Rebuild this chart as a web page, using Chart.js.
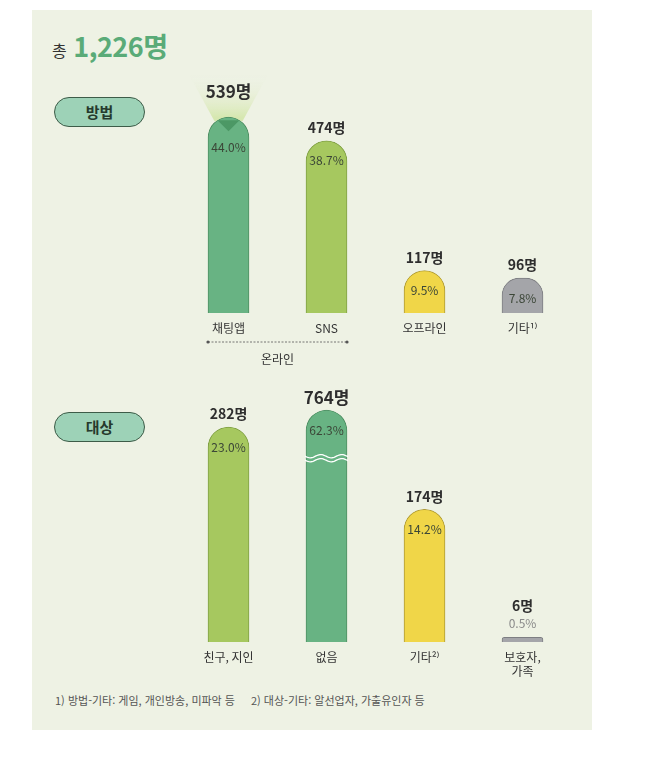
<!DOCTYPE html>
<html lang="ko">
<head>
    <meta charset="UTF-8">
    <title>방법 / 대상</title>
    <script src="https://cdn.jsdelivr.net/npm/chart.js"></script>
    <style>
        body { margin: 0; width: 670px; height: 758px; background: #fff; position: relative; overflow: hidden;
               font-family: 'Noto Sans CJK KR', 'Noto Sans', sans-serif; }
        .panel { position: absolute; left: 32px; top: 10px; width: 560px; height: 720px; background: #eef2e4; }
        .title { position: absolute; left: 52px; top: 26px; color: #333; font-size: 16px; white-space: nowrap; }
        .title b { color: #5aab78; font-size: 27px; margin-left: 2px; letter-spacing: -0.5px; }
        .pill { position: absolute; left: 54px; width: 89px; height: 28px; border: 1.5px solid #3d5c48; border-radius: 16px;
                background: #9dd2b7; color: #263a2d; font-weight: bold; font-size: 15px; text-align: center; line-height: 28px; }
        .note { position: absolute; left: 55px; top: 692px; font-size: 11px; color: #555; white-space: nowrap; }
        .note span + span { margin-left: 16px; }
        canvas { position: absolute; left: 0; }
    </style>
</head>
<body>
    <div class="panel"></div>
    <div class="title">총 <b>1,226명</b></div>
    <div class="pill" style="top: 97px;">방법</div>
    <div class="pill" style="top: 412px;">대상</div>
    <div class="note"><span>1) 방법-기타: 게임, 개인방송, 미파악 등</span><span>2) 대상-기타: 알선업자, 가출유인자 등</span></div>

    <!-- 방법 -->
    <canvas id="methodChart" width="670" height="380" style="top: 0;"></canvas>
    <!-- 대상 -->
    <canvas id="targetChart" width="670" height="300" style="top: 380px;"></canvas>
<script>
    // 방법
    const methodLabels = ['채팅앱', 'SNS', '오프라인', '기타¹⁾'];
    const methodCounts = [539, 474, 117, 96];
    const methodShares = [44.0, 38.7, 9.5, 7.8];

    // 대상
    const targetLabels = ['친구, 지인', '없음', '기타²⁾', ['보호자,', '가족']];
    const targetCounts = [282, 764, 174, 6];
    const targetShares = [23.0, 62.3, 14.2, 0.5];

    // 대상 axis is broken: bars above this value are cut (wavy line)
    const TARGET_BREAK = 304;

    const GREEN = ['#68b383', '#4f8f63'];
    const LIME = ['#a6c85f', '#80a045'];
    const YELLOW = ['#f0d648', '#ae9a35'];
    const GRAY = ['#a4a5a9', '#7d7e82'];

    const FONT = "'Noto Sans CJK KR', 'Noto Sans', sans-serif";

    // 값/비율 라벨, 스포트라이트, 물결, 온라인 괄호
    const barNotes = {
        id: 'barNotes',
        beforeDatasetsDraw(chart, args, opts) {
            if (opts.spotlight == null) return;
            const bar = chart.getDatasetMeta(0).data[opts.spotlight];
            const cx = bar.x, top = bar.y;
            const g = chart.ctx.createLinearGradient(0, top, 0, top - 42);
            g.addColorStop(0, 'rgba(214,231,176,1)');
            g.addColorStop(1, 'rgba(238,242,228,0)');
            const ctx = chart.ctx;
            ctx.save();
            ctx.fillStyle = g;
            ctx.beginPath();
            ctx.moveTo(cx - 39, top - 42);
            ctx.lineTo(cx + 39, top - 42);
            ctx.lineTo(cx + 14, top + 4);
            ctx.lineTo(cx - 14, top + 4);
            ctx.closePath();
            ctx.fill();
            ctx.restore();
        },
        afterDatasetsDraw(chart, args, opts) {
            const ctx = chart.ctx;
            const bars = chart.getDatasetMeta(0).data;
            const base = chart.chartArea.bottom;
            ctx.save();
            ctx.textAlign = 'center';
            ctx.textBaseline = 'middle';
            bars.forEach((bar, i) => {
                const top = bar.y;
                const big = i === opts.highlight;
                const lit = i === opts.spotlight;
                if (lit) {
                    ctx.fillStyle = '#4c9865';
                    ctx.beginPath();
                    ctx.moveTo(bar.x - 11, top + 3);
                    ctx.lineTo(bar.x + 11, top + 3);
                    ctx.lineTo(bar.x, top + 14);
                    ctx.closePath();
                    ctx.fill();
                }
                const small = base - top < 20;
                ctx.fillStyle = '#2e2e2e';
                ctx.font = 'bold ' + (big ? 17 : 14) + 'px ' + FONT;
                const valueY = small ? top - 32 : top - (lit ? 26 : 13);
                ctx.fillText(opts.counts[i] + '명', bar.x, valueY);
                ctx.font = '12px ' + FONT;
                ctx.fillStyle = small ? '#8a8a8a' : '#3b4637';
                const shareY = small ? top - 14 : top + (lit ? 30 : 20);
                ctx.fillText(opts.shares[i].toFixed(1) + '%', bar.x, shareY);
                if (opts.breakAt != null && opts.counts[i] > opts.breakAt) {
                    const y = top + 48;
                    const left = bar.x - bar.width / 2 - 1, right = bar.x + bar.width / 2 + 1;
                    ctx.strokeStyle = '#ffffff';
                    ctx.lineWidth = 1.3;
                    [-2, 2].forEach(dy => {
                        ctx.beginPath();
                        for (let x = left; x <= right; x += 1) {
                            const yy = y + dy + 1.6 * Math.sin((x - left) / 42 * Math.PI * 4);
                            if (x === left) ctx.moveTo(x, yy); else ctx.lineTo(x, yy);
                        }
                        ctx.stroke();
                    });
                }
            });
            if (opts.bracket) {
                const a = bars[opts.bracket[0]], b = bars[opts.bracket[1]];
                const x0 = a.x - a.width / 2, x1 = b.x + b.width / 2;
                const y = base + 29;
                ctx.strokeStyle = '#555';
                ctx.lineWidth = 0.8;
                ctx.setLineDash([2, 1.5]);
                ctx.beginPath();
                ctx.moveTo(x0, y);
                ctx.lineTo(x1, y);
                ctx.stroke();
                ctx.setLineDash([]);
                ctx.fillStyle = '#555';
                [x0, x1].forEach(x => { ctx.beginPath(); ctx.arc(x, y, 1.6, 0, Math.PI * 2); ctx.fill(); });
                ctx.fillStyle = '#333';
                ctx.font = '12px ' + FONT;
                ctx.fillText(opts.bracketLabel, (x0 + x1) / 2, y + 17);
            }
            ctx.restore();
        }
    };

    function makeChart(id, labels, values, colors, yMax, padTop, axisHeight, notes) {
        const ctx = document.getElementById(id).getContext('2d');
        return new Chart(ctx, {
            type: 'bar',
            data: {
                labels: labels,
                datasets: [{
                    data: values,
                    backgroundColor: colors.map(c => c[0]),
                    borderColor: colors.map(c => c[1]),
                    borderWidth: 1,
                    borderSkipped: 'bottom',
                    borderRadius: { topLeft: 21, topRight: 21, bottomLeft: 0, bottomRight: 0 },
                    barThickness: 41
                }]
            },
            options: {
                responsive: false,
                animation: false,
                layout: { padding: { left: 179.5, right: 98.5, top: padTop, bottom: 0 } },
                plugins: { legend: { display: false }, tooltip: { enabled: false }, barNotes: notes },
                scales: {
                    x: {
                        grid: { display: false, drawTicks: false },
                        border: { display: false },
                        ticks: { padding: 8, color: '#333', font: { family: FONT, size: 12 } },
                        afterFit: scale => { scale.height = axisHeight; }
                    },
                    y: { display: false, min: 0, max: yMax }
                }
            },
            plugins: [barNotes]
        });
    }

    // 방법: chart area 95..313 px
    makeChart('methodChart', methodLabels, methodCounts,
        [GREEN, LIME, YELLOW, GRAY], 600, 95, 67,
        { counts: methodCounts, shares: methodShares, highlight: 0, spotlight: 0,
          bracket: [0, 1], bracketLabel: '온라인' });

    // 대상: chart area 18..262 px (local)
    makeChart('targetChart', targetLabels, targetCounts.map(v => Math.min(v, TARGET_BREAK)),
        [LIME, GREEN, YELLOW, GRAY], 320, 18, 38,
        { counts: targetCounts, shares: targetShares, highlight: 1, spotlight: null,
          breakAt: TARGET_BREAK });
</script>
</body>
</html>
